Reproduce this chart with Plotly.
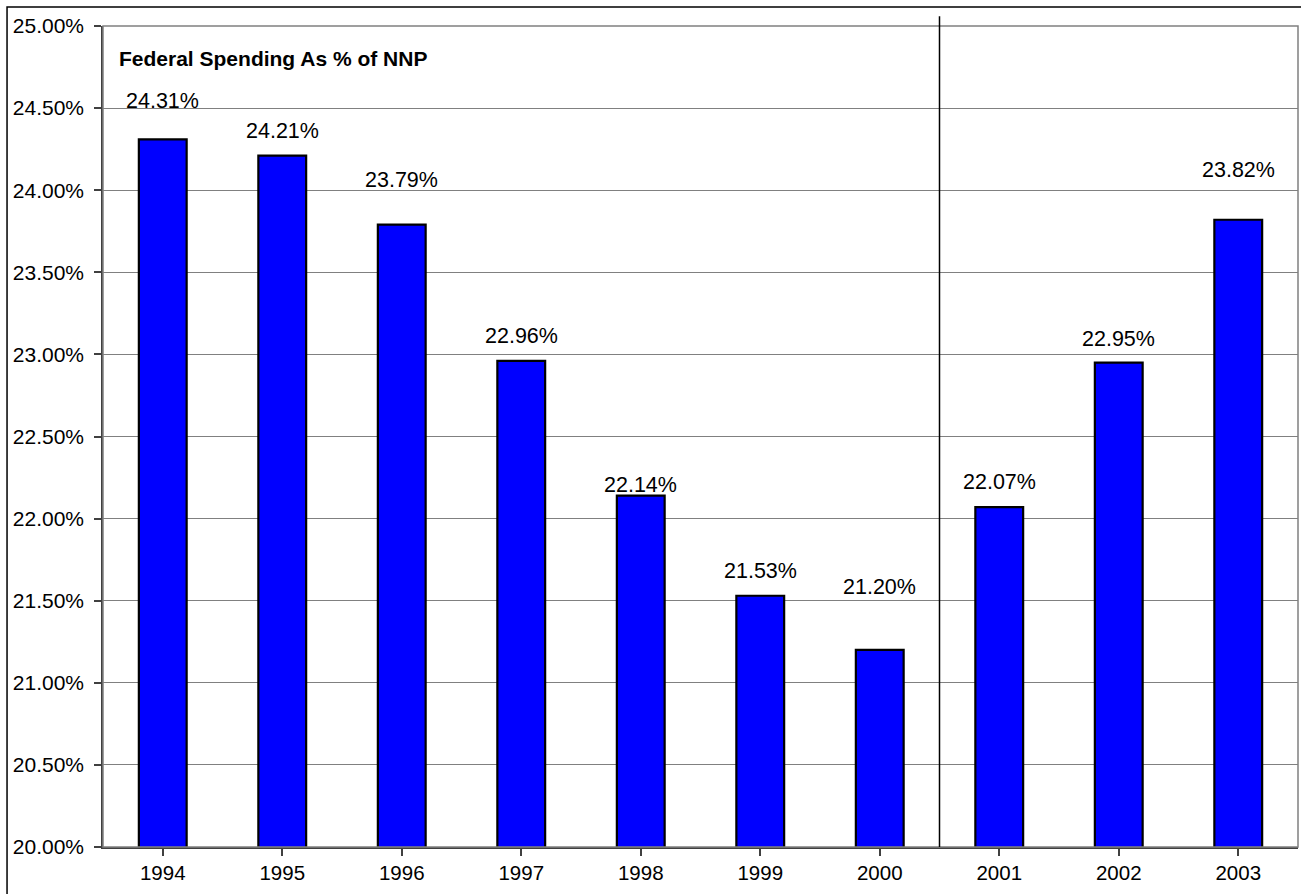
import plotly.graph_objects as go

# Federal spending as a share of net national product, by fiscal year
years = ["1994", "1995", "1996", "1997", "1998", "1999", "2000", "2001", "2002", "2003"]
spending_pct = [24.31, 24.21, 23.79, 22.96, 22.14, 21.53, 21.20, 22.07, 22.95, 23.82]

y_ticks = [20.0, 20.5, 21.0, 21.5, 22.0, 22.5, 23.0, 23.5, 24.0, 24.5, 25.0]

# how far (px) each value label sits above the top of its bar
label_lift = [38, 25, 45, 25, 11, 25, 63, 25, 24, 50]

FONT = "Liberation Sans, Arial, sans-serif"
x_idx = list(range(len(years)))

fig = go.Figure()
fig.add_trace(go.Bar(
    x=x_idx,
    y=spending_pct,
    base=0,
    width=0.4,
    marker=dict(color="#0000FF", line=dict(color="#000000", width=2.2)),
    hoverinfo="x+y",
))

for i, (v, lift) in enumerate(zip(spending_pct, label_lift)):
    fig.add_annotation(
        x=i, y=v, xref="x", yref="y",
        text=f"{v:.2f}%", showarrow=False,
        yanchor="middle", yshift=lift,
        font=dict(family=FONT, size=21.5, color="#000000"),
    )

fig.add_annotation(
    x=0.0115, y=0.960, xref="paper", yref="paper",
    xanchor="left", yanchor="middle",
    text="<b>Federal Spending As % of NNP</b>", showarrow=False,
    font=dict(family=FONT, size=21, color="#000000"),
)

# plot-area frame (gray), divider between 2000 and 2001, outer chart frame
fig.add_shape(type="rect", xref="paper", yref="paper", x0=0, x1=1, y0=0, y1=1,
              line=dict(color="#808080", width=1.5), layer="above")
fig.add_shape(type="line", xref="x", yref="paper", x0=6.5, x1=6.5, y0=0, y1=1.012,
              line=dict(color="#000000", width=1.5), layer="above")
fig.add_shape(type="rect", xref="paper", yref="paper",
              x0=-0.0803, x1=1.2, y0=-0.2, y1=1.0231,
              line=dict(color="#000000", width=1.5), layer="above")

fig.update_layout(
    width=1301, height=894,
    margin=dict(l=103, r=3, t=26, b=47),
    paper_bgcolor="#FFFFFF", plot_bgcolor="#FFFFFF",
    showlegend=False, bargap=0.6,
    font=dict(family=FONT, size=21, color="#000000"),
)
fig.update_xaxes(
    range=[-0.5, 9.5],
    tickmode="array", tickvals=x_idx, ticktext=years,
    showgrid=False, zeroline=False,
    showline=True, linecolor="#404040", linewidth=1.5,
    ticks="outside", ticklen=7, tickcolor="#404040", tickwidth=1.5,
    tickson="boundaries",
    tickfont=dict(family=FONT, size=20.5, color="#000000"),
)
fig.update_yaxes(
    range=[20.0, 25.0],
    tickmode="array", tickvals=y_ticks,
    ticktext=[f"{t:.2f}%" for t in y_ticks],
    showgrid=True, gridcolor="#808080", gridwidth=1.2,
    zeroline=False,
    showline=True, linecolor="#404040", linewidth=1.5,
    ticks="outside", ticklen=7, tickcolor="#404040", tickwidth=1.5,
    ticklabelstandoff=6,
    tickfont=dict(family=FONT, size=21, color="#000000"),
)

fig.write_html("out.html")
